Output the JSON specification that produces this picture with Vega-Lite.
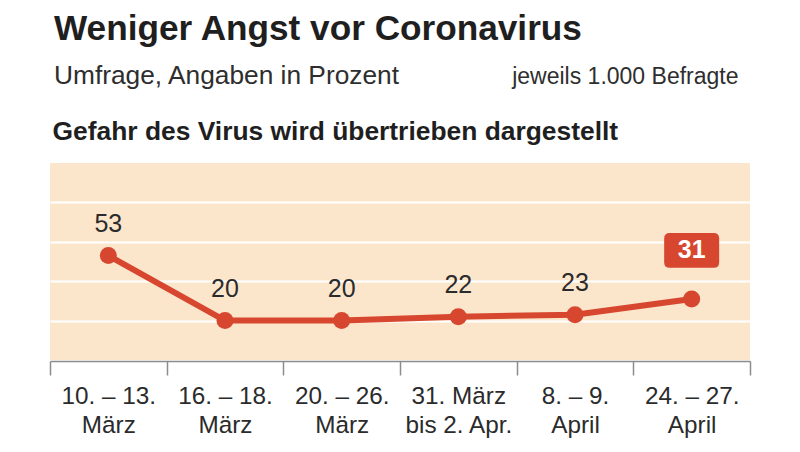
{
  "$schema": "https://vega.github.io/schema/vega-lite/v6.json",
  "width": 700,
  "height": 197,
  "autosize": {"type": "none"},
  "padding": {"left": 50, "top": 163, "right": 50, "bottom": 92},
  "background": "#ffffff",
  "title": {
    "text": "Weniger Angst vor Coronavirus",
    "subtitle": "Umfrage, Angaben in Prozent",
    "anchor": "start",
    "frame": "group",
    "baseline": "top",
    "font": "Liberation Sans",
    "fontSize": 35.2,
    "fontWeight": "bold",
    "color": "#1f1f1f",
    "subtitleFont": "Liberation Sans",
    "subtitleFontSize": 26.3,
    "subtitleColor": "#2e2e2e",
    "subtitlePadding": 16,
    "offset": -24,
    "dx": 4
  },
  "data": {
    "values": [
      {"period": "10. – 13.|März", "value": 53},
      {"period": "16. – 18.|März", "value": 20},
      {"period": "20. – 26.|März", "value": 20},
      {"period": "31. März|bis 2. Apr.", "value": 22},
      {"period": "8. – 9.|April", "value": 23},
      {"period": "24. – 27.|April", "value": 31}
    ]
  },
  "resolve": {"axis": {"x": "independent", "y": "independent"}},
  "layer": [
    {
      "mark": {"type": "line", "color": "#D7472F", "strokeWidth": 6},
      "encoding": {
        "x": {
          "field": "period", "type": "nominal", "sort": null, "bandPosition": 0.5,
          "scale": {"type": "band", "paddingInner": 0, "paddingOuter": 0},
          "axis": {
            "orient": "bottom", "title": null, "tickBand": "extent",
            "domain": true, "domainColor": "#8c8c8c", "domainWidth": 1.5,
            "ticks": true, "tickColor": "#8c8c8c", "tickWidth": 1.5, "tickSize": 14,
            "offset": 1, "labelPadding": 9.5, "labelAngle": 0, "labelOverlap": false,
            "labelExpr": "split(datum.label, '|')",
            "labelFont": "Liberation Sans", "labelFontSize": 24.3, "labelLineHeight": 28.5,
            "labelColor": "#2b2b2b", "grid": false
          }
        },
        "y": {
          "field": "value", "type": "quantitative",
          "scale": {"domain": [0, 100], "nice": false, "zero": true},
          "axis": {
            "orient": "left", "title": null, "labels": false, "ticks": false, "domain": false,
            "grid": true, "gridColor": "#ffffff", "gridWidth": 2, "values": [20, 40, 60, 80]
          }
        }
      }
    },
    {
      "mark": {"type": "point", "filled": true, "opacity": 1, "color": "#D7472F", "size": 290, "shape": "circle"},
      "encoding": {
        "x": {
          "field": "period", "type": "nominal", "sort": null, "bandPosition": 0.5,
          "axis": {
            "orient": "top", "labels": false, "ticks": false, "domain": false, "grid": false,
            "title": "Gefahr des Virus wird übertrieben dargestellt",
            "titleX": 2, "titleY": -23.5, "titleAlign": "left", "titleBaseline": "alphabetic",
            "titleFont": "Liberation Sans", "titleFontSize": 26.4, "titleFontWeight": "bold",
            "titleColor": "#1f1f1f"
          }
        },
        "y": {
          "field": "value", "type": "quantitative",
          "axis": {
            "orient": "right", "labels": false, "ticks": false, "domain": false, "grid": false,
            "title": "jeweils 1.000 Befragte", "titleAngle": 0,
            "titleX": -12, "titleY": -80, "titleAlign": "right", "titleBaseline": "alphabetic",
            "titleFont": "Liberation Sans", "titleFontSize": 23, "titleFontWeight": "normal",
            "titleColor": "#2e2e2e"
          }
        }
      }
    },
    {
      "transform": [{"filter": "datum.period != '24. – 27.|April'"}],
      "mark": {"type": "text", "dy": -23.5, "baseline": "alphabetic", "align": "center",
               "font": "Liberation Sans", "fontSize": 25, "color": "#2b2b2b"},
      "encoding": {
        "x": {"field": "period", "type": "nominal", "sort": null, "bandPosition": 0.5, "axis": null},
        "y": {"field": "value", "type": "quantitative", "axis": null},
        "text": {"field": "value", "type": "quantitative"}
      }
    },
    {
      "transform": [{"filter": "datum.period == '24. – 27.|April'"}],
      "mark": {
        "type": "point", "filled": true, "opacity": 1, "color": "#D7472F", "strokeWidth": 0,
        "size": 3025, "yOffset": -48.5,
        "shape": "M-0.8,-0.63 L0.8,-0.63 Q1,-0.63 1,-0.43 L1,0.43 Q1,0.63 0.8,0.63 L-0.8,0.63 Q-1,0.63 -1,0.43 L-1,-0.43 Q-1,-0.63 -0.8,-0.63 Z"
      },
      "encoding": {
        "x": {"field": "period", "type": "nominal", "sort": null, "bandPosition": 0.5, "axis": null},
        "y": {"field": "value", "type": "quantitative", "axis": null}
      }
    },
    {
      "transform": [{"filter": "datum.period == '24. – 27.|April'"}],
      "mark": {"type": "text", "yOffset": -48.5, "baseline": "middle", "align": "center",
               "font": "Liberation Sans", "fontSize": 25, "fontWeight": "bold", "color": "#ffffff"},
      "encoding": {
        "x": {"field": "period", "type": "nominal", "sort": null, "bandPosition": 0.5, "axis": null},
        "y": {"field": "value", "type": "quantitative", "axis": null},
        "text": {"field": "value", "type": "quantitative"}
      }
    }
  ],
  "config": {
    "view": {"fill": "#FBE6CC", "stroke": null},
    "font": "Liberation Sans"
  }
}
